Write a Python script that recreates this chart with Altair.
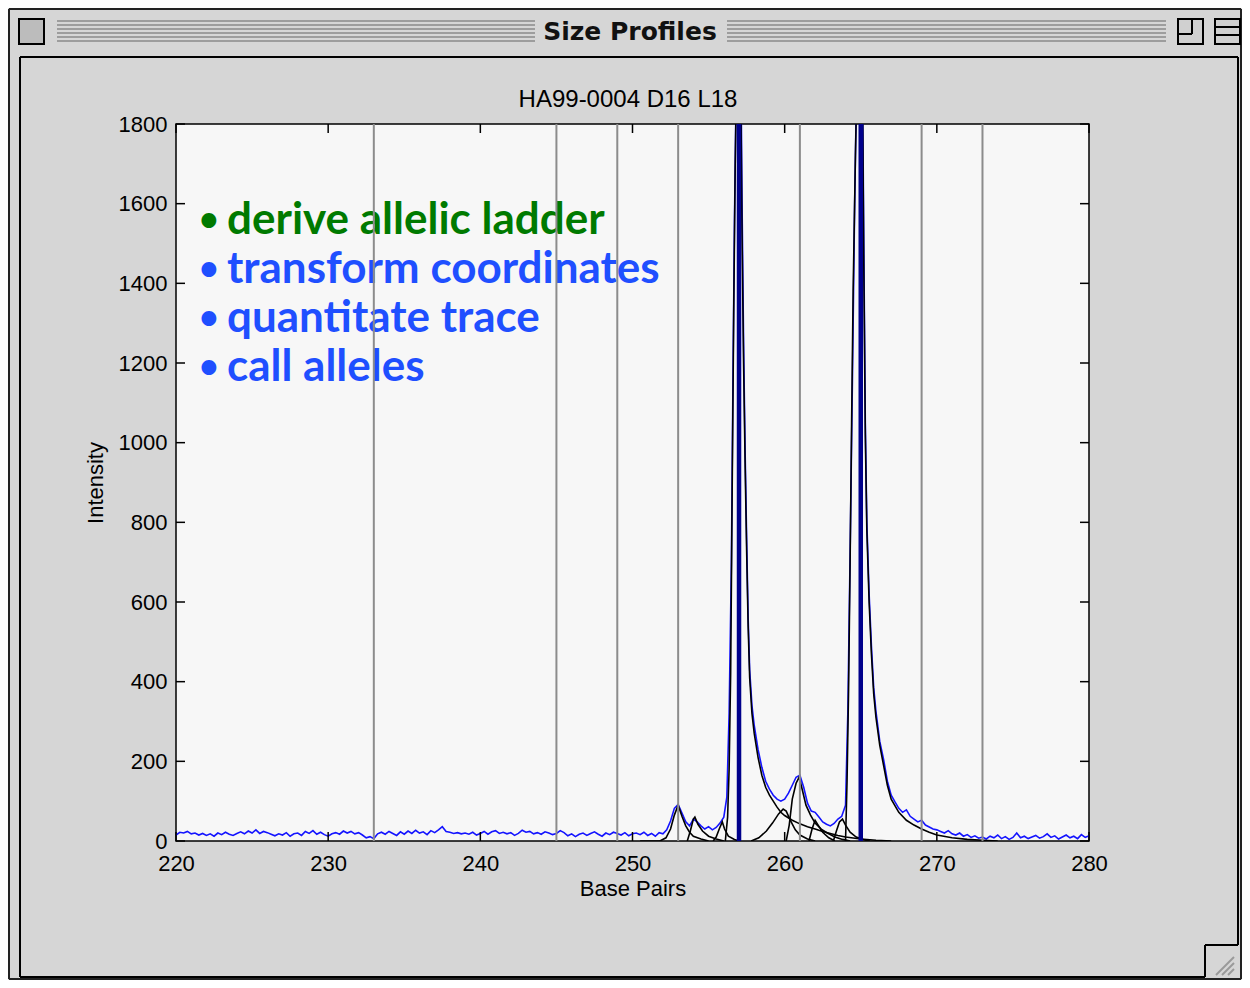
import altair as alt
import pandas as pd

# ---------------- data ----------------
# observed trace (blue): baseline sampled every 0.25 bp from 220.0
baseline_start = 220.0
baseline_step = 0.25
baseline_left = [15, 22, 20, 24, 18, 20, 15, 19, 14, 18, 12, 20, 16, 22, 17, 14,
                 19, 23, 18, 25, 20, 28, 19, 24, 21, 17, 13, 18, 15, 21, 12, 18,
                 20, 14, 24, 19, 26, 17, 22, 16, 12, 18, 21, 17, 25, 20, 24, 18,
                 21, 15, 8, 11, 6, 18, 22, 17, 24, 19, 14, 23, 17, 25, 19, 27,
                 20, 23, 16, 26, 21, 28, 36, 24, 22, 19, 21, 18, 20, 17, 22, 15,
                 19, 24, 17, 23, 26, 19, 22, 18, 21, 14, 19, 27, 22, 24, 18, 21,
                 17, 23, 20, 16, 19, 26, 21, 13, 18, 11, 17, 20, 14, 19, 23, 17,
                 12, 20, 16, 22, 19, 15, 21, 13, 18, 20, 16, 22, 14, 19, 12, 21]

peak_region_bp = [252.0, 252.25, 252.5, 252.75, 253.0, 253.25, 253.5, 253.75, 254.0, 254.25,
                  254.5, 254.75, 255.0, 255.25, 255.5, 255.75, 256.0, 256.2, 256.35, 256.5,
                  256.6, 256.7, 256.8, 256.9, 257.0, 257.1, 257.2, 257.3, 257.4, 257.5,
                  257.6, 257.7, 257.85, 258.0, 258.25, 258.5, 258.75, 259.0, 259.25, 259.5,
                  259.75, 260.0, 260.25, 260.5, 260.75, 261.0, 261.25, 261.5, 261.75, 262.0,
                  262.25, 262.5, 262.75, 263.0, 263.25, 263.5, 263.75, 264.0, 264.15, 264.3,
                  264.45, 264.6, 264.75, 264.9, 265.0, 265.1, 265.2, 265.3, 265.4, 265.55,
                  265.7, 265.85, 266.0, 266.25, 266.5, 266.75, 267.0, 267.25, 267.5, 267.75,
                  268.0, 268.25, 268.5, 268.75, 269.0, 269.25, 269.5, 269.75, 270.0, 270.25,
                  270.5, 270.75, 271.0]
peak_region_int = [18, 28, 50, 82, 92, 70, 48, 38, 55, 48,
                   38, 30, 36, 28, 34, 45, 60, 110, 320, 700,
                   1150, 1550, 1850, 2050, 2150, 2050, 1600, 1250, 980, 760,
                   560, 430, 340, 290, 230, 185, 150, 130, 115, 105,
                   100, 105, 120, 140, 160, 165, 135, 95, 75, 72,
                   60, 48, 42, 38, 44, 55, 62, 90, 320, 720,
                   1150, 1600, 1950, 2150, 2200, 2000, 1500, 1050, 800, 620,
                   490, 385, 325, 250, 205, 150, 115, 98, 82, 72,
                   78, 62, 55, 48, 52, 40, 35, 30, 28, 24,
                   20, 26, 18]

tail_start = 271.25
baseline_right = [15, 20, 12, 16, 9, 13, 7, 10, 5, 12, 8, 15, 6, 11, 4, 9, 20, 8,
                  12, 6, 10, 14, 7, 11, 18, 9, 13, 5, 10, 15, 8, 12, 6, 16, 9, 13]

# fitted peak components (black)
peak_253_bp = [250.5, 251.8, 252.2, 252.5, 252.75, 253.0, 253.25, 253.5, 253.75, 254.0, 254.5, 255.0]
peak_253_int = [0, 0, 8, 30, 65, 90, 62, 38, 22, 12, 5, 0]
peak_254_bp = [253.6, 253.8, 254.0, 254.1, 254.3, 254.6, 255.0, 255.5, 256.0]
peak_254_int = [0, 25, 55, 60, 42, 25, 12, 5, 0]
peak_256_bp = [255.3, 255.5, 255.7, 255.9, 256.05, 256.3, 256.7, 257.0]
peak_256_int = [0, 10, 30, 48, 30, 12, 4, 0]
peak_257_bp = [256.1, 256.25, 256.35, 256.45, 256.55, 256.65, 256.75, 256.85, 257.0, 257.1,
               257.2, 257.3, 257.4, 257.5, 257.6, 257.7, 257.85, 258.0, 258.25, 258.5,
               258.75, 259.0, 259.25, 259.5, 259.75, 260.0, 260.5, 261.0, 261.5, 262.0,
               262.5, 263.0, 263.5, 264.0, 265.0, 266.0, 267.0]
peak_257_int = [0, 60, 180, 420, 880, 1320, 1700, 1950, 2100, 1950,
                1520, 1200, 950, 730, 540, 410, 320, 270, 210, 165,
                135, 115, 100, 85, 72, 64, 52, 43, 36, 30,
                24, 19, 14, 10, 5, 2, 0]
peak_260_bp = [257.8, 258.3, 258.8, 259.2, 259.6, 259.9, 260.1, 260.4, 260.7, 261.0, 261.5, 262.0]
peak_260_int = [0, 8, 25, 45, 68, 80, 75, 50, 28, 15, 5, 0]
peak_261_bp = [260.1, 260.3, 260.5, 260.75, 260.95, 261.15, 261.4, 261.7, 262.0, 262.4, 262.8, 263.3, 263.8, 264.3]
peak_261_int = [0, 40, 105, 145, 160, 130, 90, 65, 45, 30, 20, 10, 4, 0]
peak_262_bp = [261.6, 261.8, 262.0, 262.2, 262.5, 262.9, 263.3]
peak_262_int = [0, 30, 52, 40, 22, 8, 0]
peak_264_bp = [263.2, 263.4, 263.6, 263.8, 264.0, 264.3, 264.7, 265.2, 265.6]
peak_264_int = [0, 25, 48, 55, 40, 22, 10, 3, 0]
peak_265_bp = [264.0, 264.1, 264.2, 264.3, 264.4, 264.5, 264.65, 264.8, 264.95, 265.1,
               265.2, 265.3, 265.4, 265.55, 265.7, 265.85, 266.0, 266.25, 266.5, 266.75,
               267.0, 267.5, 268.0, 268.5, 269.0, 269.5, 270.0, 271.0, 272.0, 273.0, 274.0]
peak_265_int = [0, 150, 380, 700, 1050, 1380, 1720, 2000, 2150, 1950,
                1450, 1020, 780, 600, 470, 370, 310, 240, 190, 140,
                105, 72, 52, 40, 30, 22, 15, 8, 4, 2, 0]

ladder_bp = [233, 245, 249, 253, 261, 269, 273]
allele_bp = [257, 265]

x_ticks = [220, 230, 240, 250, 260, 270, 280]
y_ticks = [0, 200, 400, 600, 800, 1000, 1200, 1400, 1600, 1800]

plot_title = "HA99-0004 D16 L18"
window_title_text = "Size Profiles"
bullets = ["derive allelic ladder", "transform coordinates",
           "quantitate trace", "call alleles"]
bullet_colors = ["#007a00", "#1f4fff", "#1f4fff", "#1f4fff"]

# ---------------- tables ----------------
trace_bp = [baseline_start + i * baseline_step for i in range(len(baseline_left))]
trace_bp += peak_region_bp
trace_bp += [tail_start + i * baseline_step for i in range(len(baseline_right))]
trace_int = baseline_left + peak_region_int + baseline_right
trace = pd.DataFrame({"bp": trace_bp, "intensity": trace_int})

components = [
    ("p253", peak_253_bp, peak_253_int), ("p254", peak_254_bp, peak_254_int),
    ("p256", peak_256_bp, peak_256_int), ("p257", peak_257_bp, peak_257_int),
    ("p260", peak_260_bp, peak_260_int), ("p261", peak_261_bp, peak_261_int),
    ("p262", peak_262_bp, peak_262_int), ("p264", peak_264_bp, peak_264_int),
    ("p265", peak_265_bp, peak_265_int),
]
rows = []
for name, xs, ys in components:
    for i, (a, b) in enumerate(zip(xs, ys)):
        rows.append({"comp": name, "order": i, "bp": a, "intensity": b})
comp_df = pd.DataFrame(rows)

W, H = 913, 717
LABEL_FONT = "Liberation Sans"
LABEL_SIZE = 22

x_scale = alt.Scale(domain=[220, 280], nice=False, zero=False)
y_scale = alt.Scale(domain=[0, 1800], nice=False)
x_axis = alt.Axis(values=x_ticks, ticks=False, domain=False, grid=False, format="d",
                  labelFlush=False, labelOverlap=False,
                  labelFont=LABEL_FONT, labelFontSize=LABEL_SIZE, labelColor="black", labelPadding=12,
                  title="Base Pairs", titleFont=LABEL_FONT, titleFontSize=22,
                  titleFontWeight="normal", titleColor="black", titlePadding=4)
y_axis = alt.Axis(values=y_ticks, ticks=False, domain=False, grid=False, format="d",
                  labelFlush=False, labelOverlap=False,
                  labelFont=LABEL_FONT, labelFontSize=LABEL_SIZE, labelColor="black", labelPadding=9,
                  title="Intensity", titleFont=LABEL_FONT, titleFontSize=22,
                  titleFontWeight="normal", titleColor="black", titlePadding=11)

X = alt.X("bp:Q", scale=x_scale, axis=x_axis)
Y = alt.Y("intensity:Q", scale=y_scale, axis=y_axis)

one = pd.DataFrame({"a": [0]})
OX, OY = 176, 124  # plot origin on the page


def chrome_rule(x1, y1, x2, y2, color="black", width=2):
    return alt.Chart(one).mark_rule(color=color, strokeWidth=width).encode(
        x=alt.value(x1 - OX), y=alt.value(y1 - OY),
        x2=alt.value(x2 - OX), y2=alt.value(y2 - OY))


def chrome_rect(x1, y1, x2, y2, fill, stroke="black", width=2):
    return alt.Chart(one).mark_rect(fill=fill, stroke=stroke, strokeWidth=width).encode(
        x=alt.value(x1 - OX), y=alt.value(y1 - OY),
        x2=alt.value(x2 - OX), y2=alt.value(y2 - OY))


chrome = []
# outer frame
chrome += [chrome_rule(9, 9, 1241, 9, "#222", 2), chrome_rule(9, 9, 9, 979, "#222", 2),
           chrome_rule(1241, 9, 1241, 979, "#222", 2), chrome_rule(9, 979, 1241, 979, "#222", 2)]
# title bar stripes
for yy in [21, 25, 29, 33, 37, 41]:
    chrome.append(chrome_rule(57, yy, 535, yy, "#8a8a8a", 1.5))
    chrome.append(chrome_rule(727, yy, 1166, yy, "#8a8a8a", 1.5))
# boxes in title bar
chrome.append(chrome_rect(19, 19, 44, 44, "#bcbcbc"))
chrome.append(chrome_rect(1178, 19, 1203, 44, "#d0d0d0"))
chrome.append(chrome_rule(1192, 19, 1192, 34, "black", 2))
chrome.append(chrome_rule(1178, 34, 1192, 34, "black", 2))
chrome.append(chrome_rect(1215, 19, 1240, 44, "#d0d0d0"))
chrome.append(chrome_rule(1215, 27, 1240, 27, "black", 2))
chrome.append(chrome_rule(1215, 35, 1240, 35, "black", 2))
# inner panel border with resize notch
chrome += [chrome_rule(20, 57, 1238, 57), chrome_rule(20, 57, 20, 977),
           chrome_rule(20, 977, 1205, 977), chrome_rule(1238, 57, 1238, 945),
           chrome_rule(1205, 945, 1238, 945), chrome_rule(1205, 945, 1205, 977)]
for k in range(3):
    chrome.append(chrome_rule(1216 + 6 * k, 975, 1234, 957 + 6 * k, "#9a9a9a", 2))
chrome.append(alt.Chart(pd.DataFrame({"t": [window_title_text]})).mark_text(
    font="DejaVu Sans", fontSize=25, fontWeight="bold",
    color="#111", align="center", baseline="middle").encode(
    text="t:N", x=alt.value(630 - OX), y=alt.value(32 - OY)))

# plot title
title_layer = alt.Chart(pd.DataFrame({"t": [plot_title]})).mark_text(
    font=LABEL_FONT, fontSize=24, color="black", align="center", baseline="middle").encode(
    text="t:N", x=alt.value(628 - OX), y=alt.value(100 - OY))

# bullet text: dot and words as separate texts
texts = []
for i, (t, c) in enumerate(zip(bullets, bullet_colors)):
    texts.append(alt.Chart(pd.DataFrame({"t": ["\u2022"]})).mark_text(
        font="Lato", fontSize=34, fontWeight="bold", color=c,
        align="left", baseline="middle").encode(
        text="t:N", x=alt.value(23), y=alt.value(97 + 49 * i)))
    texts.append(alt.Chart(pd.DataFrame({"t": [t]})).mark_text(
        font="Lato", fontSize=44, fontWeight="bold", color=c,
        align="left", baseline="middle").encode(
        text="t:N", x=alt.value(51), y=alt.value(97 + 49 * i)))

blue = alt.Chart(trace).mark_line(color="#1414ff", strokeWidth=1.6, clip=True).encode(
    x=X, y=Y, order="bp:Q")
black = alt.Chart(comp_df).mark_line(color="black", strokeWidth=1.6, clip=True).encode(
    x=X, y=Y, detail="comp:N", order="order:Q")

ladder = alt.Chart(pd.DataFrame({"bp": ladder_bp})).mark_rule(
    color="#8c8c8c", strokeWidth=2).encode(x=X)
alleles = alt.Chart(pd.DataFrame({"bp": allele_bp})).mark_rule(
    color="#00008b", strokeWidth=4.5).encode(x=X)

xt = pd.DataFrame({"bp": x_ticks})
yt = pd.DataFrame({"intensity": y_ticks})
ticks = [
    alt.Chart(xt).mark_rule(color="black", strokeWidth=1.5).encode(
        x=X, y=alt.value(H), y2=alt.value(H - 9)),
    alt.Chart(xt).mark_rule(color="black", strokeWidth=1.5).encode(
        x=X, y=alt.value(0), y2=alt.value(9)),
    alt.Chart(yt).mark_rule(color="black", strokeWidth=1.5).encode(
        y=Y, x=alt.value(0), x2=alt.value(9)),
    alt.Chart(yt).mark_rule(color="black", strokeWidth=1.5).encode(
        y=Y, x=alt.value(W), x2=alt.value(W - 9)),
]

chart = alt.layer(blue, black, *texts, ladder, alleles, *ticks, title_layer, *chrome).properties(
    width=W, height=H,
    autosize=alt.AutoSizeParams(type="none"),
    padding={"left": 168, "top": 116, "right": 153, "bottom": 139},
    background="#d6d6d6",
).configure_view(fill="#f7f7f7", stroke="black", strokeWidth=1.5)

chart.save("out.html", embed_options={"renderer": "svg", "actions": False})
